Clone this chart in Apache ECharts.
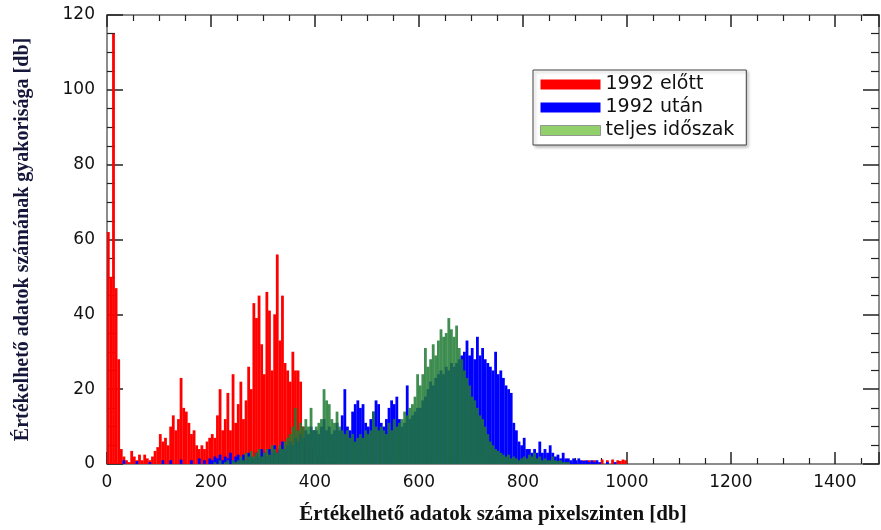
<!DOCTYPE html>
<html>
<head>
<meta charset="utf-8">
<script src="https://cdn.jsdelivr.net/npm/echarts@6/dist/echarts.min.js"></script>
<style>
  html, body { margin: 0; padding: 0; background: #fff; }
  #chart { width: 881px; height: 530px; }
</style>
</head>
<body>
<div id="chart"></div>
<script>
// histogram bins: 5 db wide, starting at 0 (0..1000)
const binWidth = 5;
const seriesNames = ['1992 előtt', '1992 után', 'teljes időszak'];

// 1992 előtt
const before1992 = [
  62, 50, 115, 47, 28, 4, 2, 1, 0.5, 3.5, 2, 1, 2.5, 1, 2.5, 1.5, 1, 2, 3.5, 4.5,
  8, 6, 7, 5, 10, 13, 9, 12, 23, 15, 14, 11, 8, 9, 5, 4, 5, 4, 6, 7,
  8, 7, 13, 20, 9, 12, 19, 9, 24, 11, 16, 22, 12, 17, 26, 20, 43, 39, 45, 32,
  24, 46, 41, 25, 40, 56, 33, 45, 27, 25, 22, 30, 25, 25, 22, 10, 7, 6, 5, 3,
  2, 1, 0.5, 0, 0.5, 0, 0, 0.5, 0, 0, 0, 0, 0, 0, 0, 0, 0, 0, 0, 0,
  0, 0, 0, 0, 0, 0, 0, 0, 0, 0, 0, 0, 0, 0, 0, 0, 0, 0, 0, 0,
  0, 0, 0, 0, 0, 0, 0, 0, 0, 0, 0, 0, 0, 0, 0, 0, 0, 0, 0, 0,
  0, 0, 0, 0, 0, 0, 0, 0, 0, 0, 0, 0, 0, 0, 0, 0, 0, 0, 0, 0,
  0, 0, 0, 0, 0, 0, 0, 0, 0, 0, 0, 0, 0, 0, 0, 0, 0, 0, 0, 0,
  0, 0, 0, 1, 0, 1, 0, 1, 0, 0, 1.2, 0, 1, 0, 1.2, 0, 1, 0.8, 1.2, 1
];

// 1992 után
const after1992 = [
  0, 0, 0, 0, 0, 0, 1, 0, 0, 0, 0, 0.8, 0, 0, 0, 0, 0.5, 0, 0, 0,
  0, 1, 0, 0, 1, 0, 0, 0, 1.2, 0, 0, 0, 1, 0, 0, 1.5, 0, 1, 0, 1.5,
  1, 2, 1.5, 2.5, 1, 2, 1.5, 3, 1, 2, 2.5, 1.5, 2.5, 1, 3, 2, 1.5, 3, 2, 4,
  3, 2, 4, 3, 5, 3, 4, 6, 4, 5, 6, 5, 7, 6, 8, 7, 9, 8, 10, 9,
  9, 8, 10, 12, 9, 10, 8, 9, 11, 9, 13, 20, 10, 9, 14, 16, 17, 15, 16, 11,
  10, 12, 14, 17, 16, 11, 10, 12, 15, 17, 16, 18, 12, 10, 11, 21, 12, 13, 14, 15,
  15, 17, 18, 20, 22, 21, 23, 24, 25, 24, 26, 25, 27, 26, 27, 28, 29, 30, 33, 29,
  31, 28, 34, 29, 31, 28, 27, 26, 25, 30, 24, 25, 23, 21, 20, 19, 11, 9, 6, 5,
  7, 4, 4, 3, 4, 3, 6, 3, 4, 3, 5, 3, 2, 2.5, 1.5, 3, 1.5, 1.5, 1, 1.5,
  1, 1.5, 1, 0.8, 1, 0.5, 1, 0.5, 1, 0.5, 0, 0, 0.5, 0, 0, 0.5, 0, 0, 0, 0
];

// teljes időszak
const wholePeriod = [
  0, 0, 0, 0, 0, 0, 0, 0, 0, 0, 0, 0, 0, 0, 0, 0, 0, 0, 0, 0,
  0, 0, 0, 0, 0, 0, 0, 0, 0, 0, 0, 0, 0, 0, 0, 0, 0, 0, 0, 0,
  0, 0.5, 0, 1, 0, 0.5, 1, 0, 1, 0.5, 1, 2, 1, 3, 2, 3.5, 2, 3, 4, 2,
  3, 4, 2.5, 5, 4, 3, 5, 4, 6, 7, 8, 10, 15, 9, 11, 10, 12, 10, 15, 9,
  10, 11, 12, 20, 17, 16, 12, 11, 14, 10, 9, 8, 9, 7, 8, 6, 7, 8, 7, 9,
  8, 9, 14, 10, 9, 10, 9, 8, 11, 9, 12, 10, 11, 12, 14, 13, 15, 16, 18, 24,
  21, 24, 31, 26, 28, 32, 29, 33, 36, 34, 35, 39, 36, 34, 37, 31, 28, 25, 23, 21,
  18, 17, 15, 13, 12, 10, 8, 6, 5, 4, 3.5, 3, 2.5, 2, 2.5, 1.5, 2, 1.5, 1, 1.5,
  2, 1.5, 2.5, 2, 3, 1.5, 2, 1, 1.5, 1, 1, 2, 1, 0.8, 1, 0.5, 0.5, 0.5, 0, 0,
  0, 0, 0, 0, 0, 0, 0, 0, 0, 0, 0, 0, 0, 0, 0, 0, 0, 0, 0, 0
];

const toBins = arr => arr
  .map((v, i) => [i * binWidth + binWidth / 2, v])
  .filter(d => d[1] > 0);

const chart = echarts.init(document.getElementById('chart'));

const labelFont = { fontFamily: 'DejaVu Sans', fontSize: 17, color: '#111' };
const nameFont = { fontFamily: 'Liberation Serif', fontWeight: 'bold', fontSize: 21 };

const frameAxis = {
  axisLine: { show: true, onZero: false, lineStyle: { color: '#666', width: 1.5 } },
  splitLine: { show: false },
  minorSplitLine: { show: false }
};
const xTick = { show: true, inside: true, length: 12, lineStyle: { color: '#222', width: 1.5 } };
const xMinor = { show: true, splitNumber: 4, length: 6, lineStyle: { color: '#222', width: 1.2 } };
const yTick = { show: true, inside: true, length: 16, lineStyle: { color: '#222', width: 1.5 } };
const yMinor = { show: true, splitNumber: 4, length: 8, lineStyle: { color: '#222', width: 1.2 } };

const option = {
  animation: false,
  backgroundColor: '#fff',
  grid: { left: 107, right: 2, top: 15, bottom: 64 },
  legend: {
    orient: 'vertical',
    left: 533,
    top: 70,
    padding: [5, 12, 5, 7],
    itemWidth: 60,
    itemHeight: 10,
    itemGap: 4,
    icon: 'rect',
    backgroundColor: '#fff',
    borderColor: '#444',
    borderWidth: 1,
    shadowBlur: 3,
    shadowOffsetX: 2,
    shadowOffsetY: 2,
    shadowColor: 'rgba(0,0,0,0.25)',
    textStyle: { fontFamily: 'DejaVu Sans', fontSize: 19, color: '#111' },
    data: [
      { name: seriesNames[0], itemStyle: { color: '#ff0000' } },
      { name: seriesNames[1], itemStyle: { color: '#0000ff' } },
      { name: seriesNames[2], itemStyle: { color: '#7ec850', borderColor: '#888', borderWidth: 1 } }
    ]
  },
  xAxis: [
    Object.assign({}, frameAxis, {
      type: 'value',
      min: 0,
      max: 1485,
      interval: 200,
      name: 'Értékelhető adatok száma pixelszinten [db]',
      nameLocation: 'middle',
      nameGap: 40,
      nameTextStyle: Object.assign({ color: '#111' }, nameFont),
      axisTick: xTick,
      minorTick: xMinor,
      axisLabel: Object.assign({ margin: 10, showMaxLabel: false, formatter: v => String(v) }, labelFont)
    }),
    Object.assign({}, frameAxis, {
      type: 'value',
      position: 'top',
      min: 0,
      max: 1485,
      interval: 200,
      axisTick: xTick,
      minorTick: xMinor,
      axisLabel: { show: false }
    })
  ],
  yAxis: [
    Object.assign({}, frameAxis, {
      type: 'value',
      min: 0,
      max: 120,
      interval: 20,
      name: 'Értékelhető adatok számának gyakorisága [db]',
      nameLocation: 'middle',
      nameGap: 74,
      nameTextStyle: Object.assign({ color: '#15163a' }, nameFont, { fontSize: 20 }),
      axisTick: yTick,
      minorTick: yMinor,
      axisLabel: Object.assign({ margin: 12 }, labelFont)
    }),
    Object.assign({}, frameAxis, {
      type: 'value',
      position: 'right',
      min: 0,
      max: 120,
      interval: 20,
      axisTick: yTick,
      minorTick: yMinor,
      axisLabel: { show: false }
    })
  ],
  series: [
    {
      name: seriesNames[0],
      type: 'bar',
      barWidth: 2.8,
      barGap: '-100%',
      itemStyle: { color: '#ff0000' },
      data: toBins(before1992)
    },
    {
      name: seriesNames[1],
      type: 'bar',
      barWidth: 2.8,
      barGap: '-100%',
      itemStyle: { color: '#0000ff' },
      data: toBins(after1992)
    },
    {
      name: seriesNames[2],
      type: 'bar',
      barWidth: 2.8,
      barGap: '-100%',
      itemStyle: { color: '#1e7a32', opacity: 0.85 },
      data: toBins(wholePeriod)
    }
  ]
};

chart.setOption(option);
</script>
</body>
</html>
